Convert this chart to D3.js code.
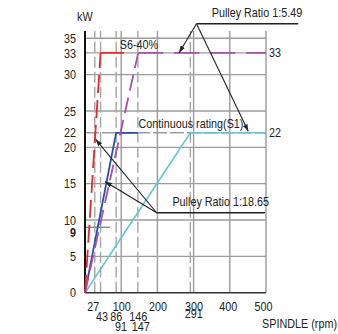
<!DOCTYPE html>
<html><head><meta charset="utf-8">
<script src="https://cdn.jsdelivr.net/npm/d3@7"></script>
<style>
body{margin:0;background:#fff}
text{font-family:"Liberation Sans",Arial,sans-serif;fill:#222}
</style>
</head><body><svg id="c" width="338" height="334"></svg>
<script>
// ---- data ----
const yTicks = [0, 5, 9, 10, 15, 20, 22, 25, 30, 33, 35];
const gridY = [5, 10, 15, 20, 25, 30, 33, 35];
const gridYDashed = [22];
const gridX = [100, 200, 300, 400, 500];
const gridXDashed = [27, 43, 86, 146, 291];
const xRow1 = [27, 100, 200, 300, 400, 500];
const xRow2 = [43, 86, 146];
const xRow3 = [91, 147];
const xRowMid = [291];
const redRise = [[0, 0], [43, 33]];
const redFlat = [[43, 33], [108, 33]];
const purpleRise = [[0, 0], [147, 33]];
const purpleFlat = [[147, 33], [500, 33]];
const blueS1 = [[0, 0], [86, 22], [146, 22]];
const cyanS1 = [[0, 0], [291, 22], [500, 22]];
const nineLine = [[0, 9], [69, 9]];
const rightLabels = [33, 22];
const pulleyHigh = {label: "Pulley Ratio 1:5.49", from: [308, 37], to: [589, 37], tips: [[260, 33], [451, 22.2]]};
const pulleyLow = {label: "Pulley Ratio 1:18.65", from: [198, 11], to: [497, 11], tips: [[29.5, 21.1], [55, 15.3]]};

// ---- chart ----
const svg = d3.select("#c");
const x = d3.scaleLinear().domain([0, 500]).range([85, 266]);
const y = d3.scaleLinear().domain([0, 35]).range([292.7, 38.3]);
const topV = 36;
const FONT = '"Liberation Sans",Arial,sans-serif';
const labelShift = {27: -2, 43: 1, 86: -0.5, 91: 2.5, 147: 2, 291: 3, 400: -2, 500: -3};

svg.append("defs").append("marker")
  .attr("id", "ah").attr("viewBox", "0 0 10 10").attr("refX", 10).attr("refY", 5)
  .attr("markerWidth", 7).attr("markerHeight", 7).attr("orient", "auto-start-reverse")
  .attr("markerUnits", "userSpaceOnUse")
  .append("path").attr("d", "M0,1.5L10,5L0,8.5z").attr("fill", "#222");

const g = svg.append("g");
// grid
g.selectAll(".gy").data(gridY).join("line")
  .attr("x1", x(0)).attr("x2", x(500)).attr("y1", d => y(d)).attr("y2", d => y(d))
  .attr("stroke", "#9b9b9b").attr("stroke-width", 1.4);
g.selectAll(".gyd").data(gridYDashed).join("line")
  .attr("x1", x(0)).attr("x2", x(500)).attr("y1", d => y(d)).attr("y2", d => y(d))
  .attr("stroke", "#9b9b9b").attr("stroke-width", 1.4).attr("stroke-dasharray", "14,3");
g.selectAll(".gx").data(gridX).join("line")
  .attr("x1", d => x(d)).attr("x2", d => x(d)).attr("y1", y(0)).attr("y2", y(topV))
  .attr("stroke", "#9b9b9b").attr("stroke-width", 1.4);
g.selectAll(".gxd").data(gridXDashed).join("line")
  .attr("x1", d => x(d)).attr("x2", d => x(d)).attr("y1", y(0)).attr("y2", y(topV))
  .attr("stroke", "#a5a5a5").attr("stroke-width", 1.4).attr("stroke-dasharray", "11,4");
g.append("line").datum(nineLine)
  .attr("x1", d => x(d[0][0])).attr("x2", d => x(d[1][0])).attr("y1", d => y(d[0][1])).attr("y2", d => y(d[1][1]))
  .attr("stroke", "#8a8a8a").attr("stroke-width", 1.4);

// axes lines
g.append("line").attr("x1", x(0)).attr("x2", x(0)).attr("y1", y(0)).attr("y2", y(topV))
  .attr("stroke", "#111").attr("stroke-width", 2);
g.append("line").attr("x1", x(0)).attr("x2", x(500)).attr("y1", y(0)).attr("y2", y(0))
  .attr("stroke", "#333").attr("stroke-width", 1.6);

// series
const line = d3.line().x(d => x(d[0])).y(d => y(d[1]));
const series = [
  {d: cyanS1, c: "#62c6d6", dash: null, w: 1.6},
  {d: blueS1, c: "#2350b0", dash: null, w: 1.8},
  {d: purpleRise, c: "#a94fae", dash: "16,7", w: 1.8},
  {d: purpleFlat, c: "#a94fae", dash: "25,11", w: 1.8},
  {d: redRise, c: "#e8282c", dash: "18,7", w: 1.8},
  {d: redFlat, c: "#e8282c", dash: null, w: 1.8}
];
g.selectAll(".s").data(series).join("path")
  .attr("d", s => line(s.d)).attr("fill", "none")
  .attr("stroke", s => s.c).attr("stroke-width", s => s.w)
  .attr("stroke-dasharray", s => s.dash);

// y axis labels
const ya = svg.append("g").attr("transform", `translate(${x(0)},0)`)
  .call(d3.axisLeft(y).tickValues(yTicks).tickSize(0).tickPadding(9).tickFormat(d3.format("d")));
ya.select(".domain").remove();
ya.selectAll("text").style("font-size", "13px").attr("fill", "#222").style("font-family", FONT);
ya.selectAll(".tick").filter(d => d === 9).select("text").attr("dy", "0.72em").style("font-weight", "bold");

// x axis rows
function xRow(vals, pad) {
  const a = svg.append("g").attr("transform", `translate(0,${y(0)})`)
    .call(d3.axisBottom(x).tickValues(vals).tickSize(0).tickPadding(pad).tickFormat(d3.format("d")));
  a.select(".domain").remove();
  a.selectAll("text").style("font-size", "13px").attr("fill", "#222").style("font-family", FONT)
    .attr("dx", d => labelShift[d] || 0);
  return a;
}
xRow(xRow1, 9);
xRow(xRow2, 19);
xRow(xRow3, 29);
xRow(xRowMid, 16);

// right labels
svg.selectAll(".rl").data(rightLabels).join("text")
  .attr("x", x(500) + 3).attr("y", d => y(d)).attr("dy", "0.35em")
  .style("font-size", "13px").text(d => d);

// titles
svg.append("text").attr("x", x(0) - 8).attr("y", 21).style("font-size", "13px").text("kW");
svg.append("text").attr("x", 337).attr("y", 328).attr("text-anchor", "end").style("font-size", "13px").text("SPINDLE (rpm)");
svg.append("text").attr("x", x(96)).attr("y", y(33) - 4).style("font-size", "13px").text("S6-40%");
svg.append("text").attr("x", x(148)).attr("y", y(22) - 5).style("font-size", "13px").text("Continuous rating(S1)");

// pulley annotations
[pulleyHigh, pulleyLow].forEach(p => {
  svg.append("line").attr("x1", x(p.from[0])).attr("x2", x(p.to[0]))
    .attr("y1", y(p.from[1])).attr("y2", y(p.to[1])).attr("stroke", "#222").attr("stroke-width", 1.3);
  svg.append("text").attr("x", x(p.to[0]) + 4).attr("y", y(p.from[1]) - 6.5)
    .attr("text-anchor", "end").style("font-size", "13px").text(p.label);
  p.tips.forEach(t => {
    svg.append("line").attr("x1", x(p.from[0])).attr("y1", y(p.from[1]))
      .attr("x2", x(t[0])).attr("y2", y(t[1]))
      .attr("stroke", "#222").attr("stroke-width", 1.1).attr("marker-end", "url(#ah)");
  });
});

// condensed face: narrow every text horizontally about its anchor (like Arial Narrow)
const K = 0.83;
svg.selectAll("text").each(function () {
  const b = this.getBBox();
  const anchor = getComputedStyle(this).textAnchor || this.getAttribute("text-anchor") || "start";
  const ax = anchor === "end" ? b.x + b.width : anchor === "middle" ? b.x + b.width / 2 : b.x;
  this.setAttribute("transform", `translate(${ax.toFixed(2)},0) scale(${K},1) translate(${(-ax).toFixed(2)},0)`);
});
</script></body></html>
